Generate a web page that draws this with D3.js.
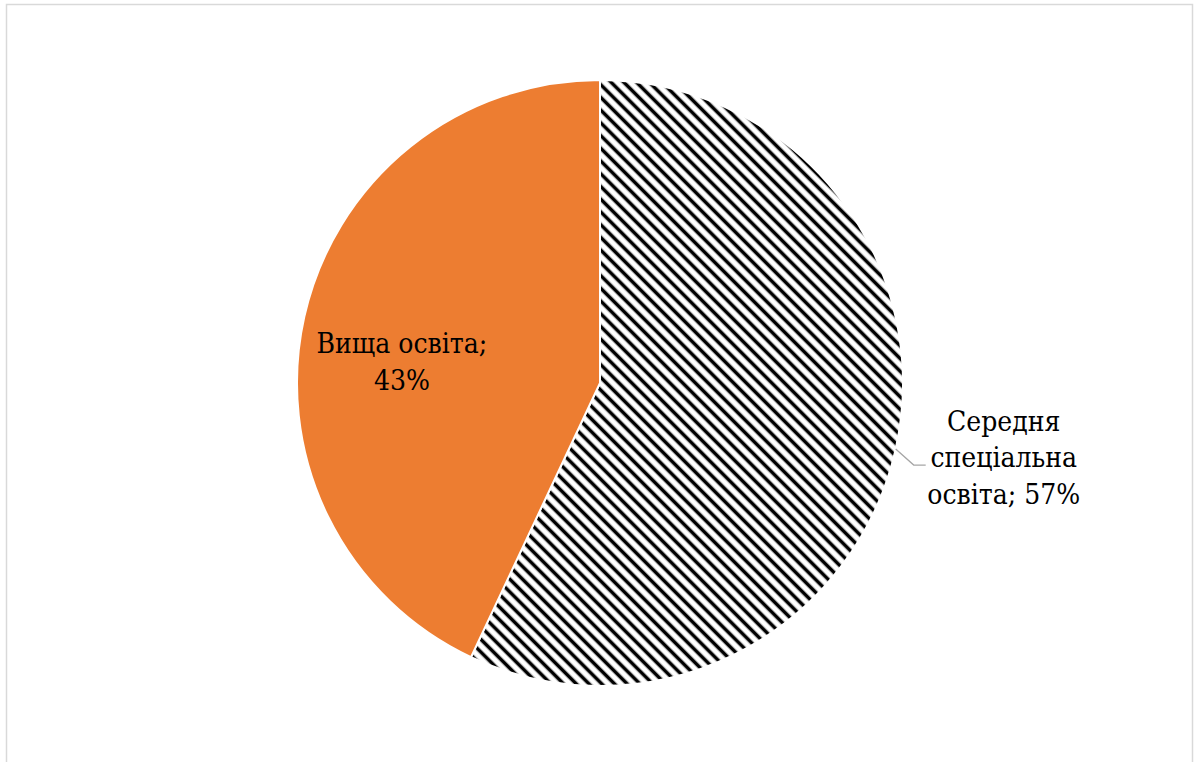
<!DOCTYPE html>
<html>
<head>
<meta charset="utf-8">
<script src="https://cdn.jsdelivr.net/npm/d3@7"></script>
<style>
  html, body { margin: 0; padding: 0; background: #ffffff; }
  svg { display: block; }
  .lbl { font-family: "DejaVu Serif Condensed", "DejaVu Serif", "Liberation Serif", serif; }
</style>
</head>
<body>
<svg id="chart" width="1195" height="762"></svg>
<script>
// Education level shares (percent)
const categories = ["Середня спеціальна освіта", "Вища освіта"];
const values = [57, 43];
const labelLines = [["Середня", "спеціальна", "освіта; 57%"], ["Вища освіта;", "43%"]];

const cx = 600, cy = 383, R = 303;

const svg = d3.select("#chart");

// chart area frame
svg.append("rect")
  .attr("x", 6.5).attr("y", 4.5)
  .attr("width", 1186).attr("height", 780)
  .attr("fill", "none")
  .attr("stroke", "#d9d9d9")
  .attr("stroke-width", 1.5);

// diagonal hatch fill
const defs = svg.append("defs");
const P = 9;
const pat = defs.append("pattern")
  .attr("id", "hatch")
  .attr("patternUnits", "userSpaceOnUse")
  .attr("width", P).attr("height", P)
  .attr("patternTransform", "rotate(-45)");
pat.append("rect").attr("width", P).attr("height", P).attr("fill", "#ffffff");
pat.append("line")
  .attr("x1", P / 2).attr("y1", 0).attr("x2", P / 2).attr("y2", P)
  .attr("stroke", "#000").attr("stroke-width", 3.6);

const fills = ["url(#hatch)", "#ed7d31"];

const pie = d3.pie().sort(null).value(d => d)(values);
const arc = d3.arc().innerRadius(0).outerRadius(R);

const g = svg.append("g").attr("transform", `translate(${cx},${cy})`);

g.selectAll("path.slice")
  .data(pie)
  .join("path")
  .attr("class", "slice")
  .attr("d", arc)
  .attr("fill", (d, i) => fills[i])
  .attr("stroke", "#ffffff")
  .attr("stroke-width", 2);

const fontSize = 28, lineH = 36.5;

// inside label for the orange slice
(function () {
  const d = pie[1];
  const mid = (d.startAngle + d.endAngle) / 2;
  const r = 0.67 * R;
  const x = Math.sin(mid) * r, y = -Math.cos(mid) * r + 23;
  const t = g.append("text")
    .attr("class", "lbl")
    .attr("text-anchor", "middle")
    .style("font-size", fontSize + "px")
    .attr("fill", "#000");
  labelLines[1].forEach((s, k) => {
    t.append("tspan").attr("x", x).attr("y", y + (k - (labelLines[1].length - 1) / 2) * lineH + 10).text(s);
  });
})();

// outside label with leader line for the hatched slice
(function () {
  const d = pie[0];
  const mid = (d.startAngle + d.endAngle) / 2;
  const p0 = [Math.sin(mid) * R, -Math.cos(mid) * R];
  const p1 = [p0[0] + 18, p0[1] + 16];
  const p2 = [p1[0] + 12, p1[1]];
  g.append("polyline")
    .attr("points", [p0, p1, p2].map(p => p.join(",")).join(" "))
    .attr("fill", "none")
    .attr("stroke", "#a6a6a6")
    .attr("stroke-width", 1.3);
  const x = p2[0] + 78;
  const t = g.append("text")
    .attr("class", "lbl")
    .attr("text-anchor", "middle")
    .style("font-size", fontSize + "px")
    .attr("fill", "#000");
  labelLines[0].forEach((s, k) => {
    t.append("tspan").attr("x", x).attr("y", p2[1] + (k - 1) * lineH + 2).text(s);
  });
})();
</script>
</body>
</html>
